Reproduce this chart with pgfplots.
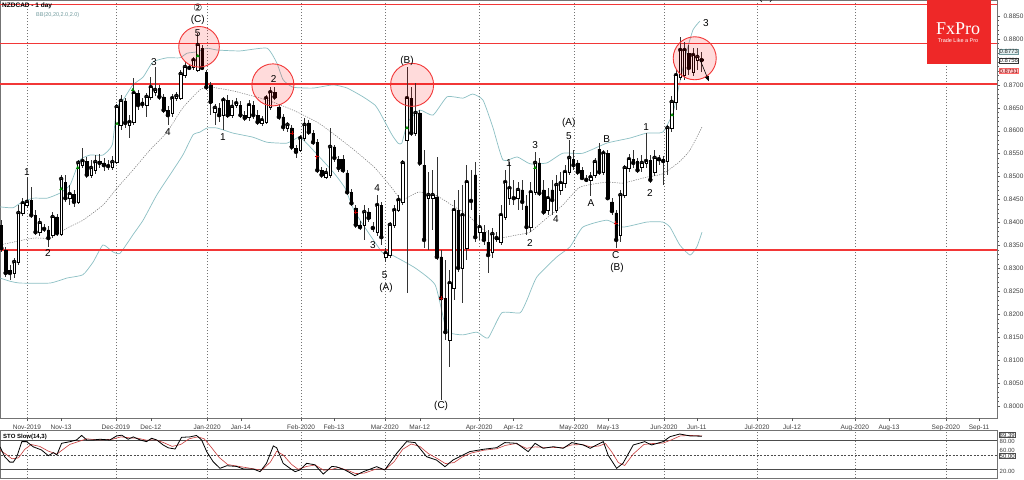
\documentclass[border=0pt]{standalone}
\usepackage{fontspec}
\setmainfont{Liberation Sans}
\setsansfont{Liberation Sans}
\newfontfamily\dejavu{DejaVu Sans}
\newfontfamily\serifx{Liberation Serif}
\usepackage{pgfplots}
\pgfplotsset{compat=1.18}
\usepackage{pgfplotstable}
\usetikzlibrary{arrows.meta}
\definecolor{bband}{RGB}{140,192,196}
\definecolor{hline}{RGB}{242,55,55}
\definecolor{fxred}{RGB}{238,40,40}
\definecolor{stored}{RGB}{200,60,60}

\pgfplotstableread{
i o h l c
-6 0.8394 0.8405 0.8336 0.8344
-5 0.8340 0.8347 0.8281 0.8290
-4 0.8296 0.8307 0.8275 0.8290
-3 0.8290 0.8323 0.8279 0.8314
-2 0.8314 0.8438 0.8307 0.8421
-1 0.8421 0.8453 0.8414 0.8442
0 0.8438 0.8499 0.8432 0.8445
1 0.8449 0.8477 0.8410 0.8416
2 0.8416 0.8427 0.8373 0.8379
3 0.8379 0.8410 0.8371 0.8399
4 0.8388 0.8397 0.8379 0.8386
5 0.8384 0.8392 0.8347 0.8366
6 0.8373 0.8423 0.8366 0.8412
7 0.8412 0.8418 0.8371 0.8377
8 0.8375 0.8504 0.8371 0.8495
9 0.8488 0.8504 0.8445 0.8453
10 0.8453 0.8482 0.8438 0.8462
11 0.8462 0.8471 0.8434 0.8445
12 0.8445 0.8536 0.8440 0.8530
13 0.8525 0.8562 0.8519 0.8534
14 0.8534 0.8543 0.8497 0.8504
15 0.8504 0.8536 0.8497 0.8519
16 0.8514 0.8547 0.8506 0.8532
17 0.8534 0.8549 0.8519 0.8530
18 0.8530 0.8541 0.8512 0.8525
19 0.8525 0.8536 0.8514 0.8523
20 0.8521 0.8545 0.8514 0.8532
21 0.8532 0.8658 0.8528 0.8652
22 0.8613 0.8678 0.8602 0.8665
23 0.8665 0.8671 0.8606 0.8617
24 0.8613 0.8634 0.8584 0.8619
25 0.8619 0.8715 0.8613 0.8682
26 0.8682 0.8689 0.8645 0.8656
27 0.8663 0.8671 0.8650 0.8658
28 0.8656 0.8682 0.8630 0.8674
29 0.8674 0.8717 0.8667 0.8695
30 0.8684 0.8739 0.8676 0.8689
31 0.8693 0.8700 0.8667 0.8674
32 0.8674 0.8680 0.8639 0.8645
33 0.8645 0.8654 0.8613 0.8634
34 0.8639 0.8680 0.8630 0.8671
35 0.8671 0.8684 0.8665 0.8676
36 0.8671 0.8732 0.8667 0.8724
37 0.8721 0.8750 0.8715 0.8739
38 0.8739 0.8745 0.8732 0.8737
39 0.8739 0.8761 0.8732 0.8754
40 0.8732 0.8813 0.8728 0.8787
41 0.8780 0.8787 0.8732 0.8737
42 0.8728 0.8732 0.8689 0.8695
43 0.8700 0.8706 0.8634 0.8663
44 0.8641 0.8658 0.8613 0.8650
45 0.8650 0.8660 0.8619 0.8634
46 0.8634 0.8674 0.8602 0.8667
47 0.8667 0.8678 0.8628 0.8634
48 0.8634 0.8667 0.8628 0.8652
49 0.8656 0.8671 0.8650 0.8660
50 0.8656 0.8665 0.8628 0.8634
51 0.8634 0.8643 0.8621 0.8628
52 0.8630 0.8667 0.8621 0.8656
53 0.8656 0.8665 0.8626 0.8634
54 0.8634 0.8645 0.8613 0.8619
55 0.8617 0.8632 0.8610 0.8623
56 0.8619 0.8678 0.8615 0.8671
57 0.8652 0.8695 0.8645 0.8684
58 0.8684 0.8695 0.8667 0.8674
59 0.8652 0.8658 0.8623 0.8630
60 0.8630 0.8636 0.8599 0.8608
61 0.8606 0.8619 0.8597 0.8613
62 0.8606 0.8613 0.8558 0.8565
63 0.8562 0.8569 0.8541 0.8554
64 0.8558 0.8591 0.8554 0.8584
65 0.8584 0.8628 0.8578 0.8613
66 0.8617 0.8623 0.8591 0.8597
67 0.8595 0.8602 0.8569 0.8575
68 0.8575 0.8582 0.8508 0.8514
69 0.8514 0.8521 0.8497 0.8504
70 0.8499 0.8519 0.8495 0.8508
71 0.8504 0.8606 0.8497 0.8565
72 0.8565 0.8569 0.8532 0.8541
73 0.8538 0.8545 0.8510 0.8519
74 0.8538 0.8547 0.8508 0.8514
75 0.8508 0.8514 0.8460 0.8466
76 0.8466 0.8473 0.8436 0.8442
77 0.8432 0.8438 0.8388 0.8395
78 0.8395 0.8403 0.8384 0.8390
79 0.8395 0.8438 0.8362 0.8423
80 0.8423 0.8432 0.8401 0.8410
81 0.8390 0.8401 0.8379 0.8388
82 0.8379 0.8460 0.8371 0.8438
83 0.8438 0.8445 0.8351 0.8368
84 0.8325 0.8344 0.8314 0.8333
85 0.8329 0.8401 0.8323 0.8395
86 0.8395 0.8438 0.8388 0.8427
87 0.8427 0.8460 0.8423 0.8449
88 0.8445 0.8536 0.8438 0.8530
89 0.8580 0.8739 0.8246 0.8671
90 0.8671 0.8695 0.8589 0.8595
91 0.8595 0.8704 0.8589 0.8639
92 0.8639 0.8645 0.8523 0.8530
93 0.8525 0.8558 0.8344 0.8362
94 0.8453 0.8510 0.8340 0.8460
95 0.8453 0.8514 0.8384 0.8460
96 0.8456 0.8543 0.8318 0.8325
97 0.8325 0.8340 0.8013 0.8235
98 0.8235 0.8318 0.8144 0.8161
99 0.8144 0.8296 0.8085 0.8268
100 0.8257 0.8449 0.8231 0.8427
101 0.8427 0.8471 0.8292 0.8301
102 0.8301 0.8482 0.8224 0.8416
103 0.8344 0.8525 0.8318 0.8488
104 0.8449 0.8514 0.8427 0.8447
105 0.8504 0.8532 0.8357 0.8368
106 0.8379 0.8416 0.8362 0.8390
107 0.8379 0.8395 0.8351 0.8362
108 0.8357 0.8384 0.8290 0.8329
109 0.8336 0.8388 0.8323 0.8375
110 0.8364 0.8379 0.8357 0.8366
111 0.8357 0.8438 0.8351 0.8416
112 0.8412 0.8514 0.8405 0.8488
113 0.8453 0.8532 0.8438 0.8475
114 0.8456 0.8493 0.8438 0.8453
115 0.8453 0.8488 0.8427 0.8471
116 0.8471 0.8493 0.8427 0.8445
117 0.8436 0.8460 0.8373 0.8390
118 0.8390 0.8488 0.8379 0.8466
119 0.8466 0.8554 0.8460 0.8530
120 0.8530 0.8541 0.8458 0.8464
121 0.8471 0.8493 0.8416 0.8423
122 0.8427 0.8475 0.8416 0.8453
123 0.8471 0.8493 0.8416 0.8449
124 0.8427 0.8504 0.8421 0.8482
125 0.8471 0.8510 0.8460 0.8486
126 0.8486 0.8525 0.8475 0.8510
127 0.8510 0.8580 0.8504 0.8541
128 0.8538 0.8558 0.8514 0.8525
129 0.8530 0.8536 0.8504 0.8510
130 0.8514 0.8521 0.8493 0.8497
131 0.8495 0.8504 0.8488 0.8493
132 0.8493 0.8510 0.8458 0.8499
133 0.8504 0.8541 0.8497 0.8532
134 0.8560 0.8573 0.8504 0.8510
135 0.8510 0.8558 0.8504 0.8551
136 0.8551 0.8558 0.8449 0.8453
137 0.8445 0.8453 0.8416 0.8425
138 0.8421 0.8427 0.8344 0.8362
139 0.8373 0.8471 0.8357 0.8460
140 0.8460 0.8525 0.8453 0.8519
141 0.8519 0.8549 0.8510 0.8538
142 0.8538 0.8558 0.8519 0.8530
143 0.8534 0.8541 0.8508 0.8514
144 0.8521 0.8547 0.8510 0.8530
145 0.8530 0.8595 0.8519 0.8534
146 0.8536 0.8547 0.8486 0.8493
147 0.8510 0.8558 0.8501 0.8541
148 0.8536 0.8547 0.8525 0.8538
149 0.8538 0.8545 0.8482 0.8534
150 0.8534 0.8613 0.8504 0.8606
151 0.8606 0.8676 0.8597 0.8663
152 0.8663 0.8732 0.8645 0.8721
153 0.8717 0.8804 0.8711 0.8776
154 0.8721 0.8793 0.8711 0.8776
155 0.8769 0.8787 0.8721 0.8737
156 0.8728 0.8780 0.8719 0.8765
157 0.8754 0.8780 0.8732 0.8761
158 0.8756 0.8772 0.8728 0.8754
}\candles

\pgfplotsset{
  mainpanel/.style={
    at={(0pt,0pt)}, anchor=north west, scale only axis,
    width=997pt, height=418pt,
    xmin=-6.32, xmax=227.2, ymin=0.79738, ymax=0.8885, clip=true},
  overlay/.style={mainpanel, hide axis},
}

\begin{document}
\begin{tikzpicture}
\useasboundingbox (0pt,0pt) rectangle (1024pt,-479pt);
\fill[white] (0pt,0pt) rectangle (1024pt,-479pt);
% ---------------- main price panel: frame, bands, levels, wicks ----------------
\begin{axis}[
  mainpanel,
  axis line style={black!55, line width=0.5pt},
  xtick={0,20.8,42.2,64.2,83.8,105.9,128.1,149.2,171,193.9,215.2},
  xticklabels={Nov-2019,Dec-2019,Jan-2020,Feb-2020,Mar-2020,Apr-2020,May-2020,Jun-2020,Jul-2020,Aug-2020,Sep-2020},
  extra x ticks={8,29,50.1,71.9,92,113.9,136.1,156.9,179.2,201.9,223},
  extra x tick labels={Nov-13,Dec-12,Jan-14,Feb-13,Mar-12,Apr-12,May-13,Jun-11,Jul-12,Aug-13,Sep-11},
  extra x tick style={grid=none},
  xmajorgrids,
  major grid style={black!55, dash pattern=on 1.5pt off 1.5pt, line width=0.4pt},
  xtick pos=left, ytick pos=right, yticklabel pos=right,
  tick align=outside, major tick length=3pt, minor tick length=1.5pt,
  tick style={black!65, line width=0.4pt},
  ytick={0.8000,0.8050,0.8100,0.8150,0.8200,0.8250,0.8300,0.8350,0.8400,0.8450,0.8500,0.8550,0.8600,0.8650,0.8700,0.8750,0.8800,0.8850},
  yticklabels={0.8000,0.8050,0.8100,0.8150,0.8200,0.8250,0.8300,0.8350,0.8400,0.8450,0.8500,0.8550,0.8600,0.8650,0.8700,{},0.8800,0.8850},
  minor y tick num=4,
  scaled y ticks=false,
  yticklabel style={font=\fontsize{6.5}{7}\selectfont, text=black!75},
  xticklabel style={font=\fontsize{6.5}{7}\selectfont, text=black!75},
]
% Bollinger bands
\addplot[bband, line width=0.7pt, smooth, tension=0.3] coordinates {
(-6.3,0.8434) (-3.3,0.8432) (-1.6,0.8442) (1.4,0.8453) (4.7,0.8453) (7.7,0.8464) (10.1,0.8482) (12.4,0.8536) (14.8,0.8547) (17.8,0.8547) (20,0.8570) (21,0.8650) (22.5,0.8667) (24.8,0.8700) (27.2,0.8717) (29.5,0.8750) (32.8,0.8759) (35.8,0.8759) (37.5,0.8769) (39.8,0.8772) (42.2,0.8780) (44.5,0.8776) (49.9,0.8774) (56.2,0.8780) (58.5,0.8748) (60,0.8711) (62.3,0.8695) (67,0.8693) (71.7,0.8700) (75,0.8693) (78.7,0.8674) (81.5,0.8656) (82.7,0.8639) (85.5,0.8591) (86.9,0.8573) (87.8,0.8573) (89.2,0.8619) (92,0.8645) (95.1,0.8634) (98.4,0.8674) (102.1,0.8671) (104.4,0.8680) (106.8,0.8667) (109.1,0.8608) (111.5,0.8536) (114.8,0.8543) (117.8,0.8528) (121.8,0.8530) (125.5,0.8551) (130.2,0.8551) (135.8,0.8573) (141.2,0.8584) (145.2,0.8595) (148.9,0.8597) (151.3,0.8639) (152.9,0.8706) (154.6,0.8776) (156,0.8820) (157.6,0.8839)};
\addplot[bband, line width=0.7pt, smooth, tension=0.3] coordinates {
(-6.3,0.8279) (-4,0.8272) (-1.6,0.8268) (5.4,0.8268) (9.4,0.8279) (13.1,0.8286) (15.5,0.8314) (17.8,0.8351) (20.1,0.8336) (21.8,0.8333) (24.8,0.8373) (27.2,0.8405) (30.4,0.8460) (33.5,0.8504) (36.5,0.8547) (38.9,0.8591) (40.5,0.8597) (42.2,0.8606) (44.5,0.8606) (48.2,0.8595) (52.9,0.8586) (56.2,0.8575) (60.9,0.8573) (63.9,0.8586) (67,0.8558) (71.7,0.8510) (74.5,0.8475) (76.8,0.8423) (83.1,0.8336) (85.5,0.8329) (90.9,0.8301) (95.6,0.8264) (97.9,0.8177) (99.1,0.8159) (102.1,0.8155) (105.4,0.8161) (108,0.8148) (111.2,0.8203) (115.5,0.8203) (117.1,0.8231) (119.4,0.8281) (124.1,0.8325) (127.2,0.8347) (130.2,0.8390) (135.8,0.8405) (139.6,0.8390) (145.2,0.8401) (148.9,0.8401) (150.6,0.8390) (152.9,0.8351) (155.3,0.8329) (156.9,0.8347) (158.1,0.8379)};
\addplot[black!55, line width=0.5pt, dash pattern=on 1.2pt off 1.2pt, smooth, tension=0.3] coordinates {
(-6.3,0.8351) (1.4,0.8366) (5.4,0.8366) (9.4,0.8388) (13.1,0.8405) (17.8,0.8438) (21.1,0.8475) (24.8,0.8514) (28.8,0.8558) (32.8,0.8597) (36.5,0.8650) (40.5,0.8689) (42.9,0.8695) (48.2,0.8687) (56.2,0.8667) (62.3,0.8645) (68.6,0.8615) (76.1,0.8562) (81.5,0.8519) (85.5,0.8475) (87.8,0.8449) (91.6,0.8466) (95.6,0.8460) (99.5,0.8438) (103.3,0.8416) (106.1,0.8390) (110.1,0.8366) (114.8,0.8373) (117.8,0.8379) (121.8,0.8410) (125.5,0.8438) (129.5,0.8477) (135.8,0.8488) (139.6,0.8486) (145.2,0.8499) (148.9,0.8506) (152.9,0.8533) (155.3,0.8558) (158.1,0.8608)};
% horizontal levels
\addplot[hline, line width=1.2pt] coordinates {(-7,0.8876) (228,0.8876)};
\addplot[hline, line width=1.2pt] coordinates {(-7,0.8791) (228,0.8791)};
\addplot[hline, line width=1.4pt] coordinates {(-7,0.8702) (228,0.8702)};
\addplot[hline, line width=1.1pt] coordinates {(-7,0.8340) (228,0.8340)};
% candle wicks
\addplot[only marks, mark=none, error bars/.cd, y dir=both, y explicit, error mark=none,
  error bar style={draw=black!80, line width=0.6pt, solid}]
  table[x=i, y=c, y error plus expr={\thisrow{h}-\thisrow{c}}, y error minus expr={\thisrow{c}-\thisrow{l}}] {\candles};
\end{axis}
% ---------------- candle bodies (stacked bars in an overlaid axis) ----------------
\begin{axis}[overlay, ybar stacked, bar width=2.5pt]
\addplot[draw=none, fill=none] table[x=i, y expr={min(\thisrow{o},\thisrow{c})}] {\candles};
\addplot[draw=black, fill=white, line width=0.55pt] table[x=i, y expr={max(\thisrow{c}-\thisrow{o},0)}] {\candles};
\addplot[draw=black, fill=black, line width=0.55pt] table[x=i, y expr={max(\thisrow{o}-\thisrow{c},0)}] {\candles};
\end{axis}
% ---------------- annotations on the price panel ----------------
\begin{axis}[overlay]
\addplot[only marks, mark=triangle*, mark size=1.7pt, color=green!55!black] coordinates {
(8.0,0.8473) (11.9,0.8519) (21.1,0.8615) (24.8,0.8689) (40.0,0.8763) (89.0,0.8606) (119.0,0.8519) (151.1,0.8634)};
\addplot[only marks, mark=+, mark size=2pt, line width=0.8pt, color=red!75!black] coordinates {
(62.1,0.8595) (67.9,0.8543) (77.0,0.8423) (97.0,0.8235) (137.9,0.8399)};
\draw[hline, line width=0.9pt, fill=red, fill opacity=0.14] (axis cs:40.3,0.8783) circle[radius=20.3pt];
\draw[hline, line width=0.9pt, fill=red, fill opacity=0.14] (axis cs:57.6,0.8700) circle[radius=21pt];
\draw[hline, line width=0.9pt, fill=red, fill opacity=0.14] (axis cs:90.2,0.8700) circle[radius=21.5pt];
\draw[hline, line width=0.9pt, fill=red, fill opacity=0.14] (axis cs:156.4,0.8758) circle[radius=21.5pt];
\draw[black, line width=0.6pt, -{Triangle[length=5pt,width=4pt]}] (axis cs:157.6,0.8756) -- (axis cs:159.7,0.8708);
\begin{scope}[every node/.style={font=\fontsize{10}{10}\selectfont, text=black, inner sep=0pt}]
\node at (axis cs:40.0,0.8868) {\dejavu ②};
\node at (axis cs:40.0,0.8841) {(C)};
\node at (axis cs:40.0,0.8813) {5};
\node at (axis cs:29.7,0.8750) {3};
\node at (axis cs:33.0,0.8597) {4};
\node at (axis cs:0,0.8510) {1};
\node at (axis cs:4.9,0.8333) {2};
\node at (axis cs:45.9,0.8586) {1};
\node at (axis cs:57.8,0.8713) {2};
\node at (axis cs:89.0,0.8752) {(B)};
\node at (axis cs:82.0,0.8475) {4};
\node at (axis cs:81.0,0.8351) {3};
\node at (axis cs:83.8,0.8286) {5};
\node at (axis cs:84.1,0.8257) {(A)};
\node at (axis cs:97.0,0.8000) {(C)};
\node at (axis cs:112.9,0.8530) {1};
\node at (axis cs:117.8,0.8355) {2};
\node at (axis cs:119.0,0.8569) {3};
\node at (axis cs:123.9,0.8408) {4};
\node at (axis cs:126.9,0.8617) {(A)};
\node at (axis cs:126.9,0.8589) {5};
\node at (axis cs:132.1,0.8442) {A};
\node at (axis cs:135.8,0.8582) {B};
\node at (axis cs:137.9,0.8329) {C};
\node at (axis cs:138.2,0.8301) {(B)};
\node at (axis cs:145.0,0.8608) {1};
\node at (axis cs:145.9,0.8464) {2};
\node at (axis cs:159.0,0.8835) {3};
\node at (axis cs:173.1,0.8889) {(C)};
\end{scope}
\end{axis}
% ---------------- stochastic panel ----------------
\begin{axis}[
  at={(0pt,-430pt)}, anchor=north west, scale only axis,
  width=997pt, height=48pt,
  xmin=-6.32, xmax=227.2, ymin=1.7, ymax=102.4,
  axis line style={black!55, line width=0.5pt},
  xtick={0,20.8,42.2,64.2,83.8,105.9,128.1,149.2,171,193.9,215.2},
  xticklabels={}, ytick=\empty, major tick length=0pt,
  xmajorgrids,
  major grid style={black!55, dash pattern=on 1.5pt off 1.5pt, line width=0.4pt},
  clip=true,
]
\addplot[black!70, line width=0.6pt] coordinates {(-7,80) (228,80)};
\addplot[black!70, line width=0.6pt] coordinates {(-7,20) (228,20)};
\addplot[black!70, line width=0.5pt, dash pattern=on 2pt off 1.5pt] coordinates {(-7,50) (228,50)};
\addplot[stored, line width=0.6pt] coordinates {
(-6.3,60) (-5,52) (-3.5,42) (-2,44) (-0.5,62) (1,72) (3,68) (5,58) (7,52) (8.5,62) (10,72) (12,78) (14,84) (16,82) (18,82) (20,83) (22,88) (24,86) (26,85) (28,81) (30,82) (32,76) (34,68) (36,72) (38,84) (40,88) (41.5,84) (43,68) (45,45) (47,30) (49,27) (51,24) (53,21) (55,18) (57,35) (58.5,58) (60,50) (62,30) (63.5,20) (65.5,26) (67.5,29) (69.5,18) (71.5,20) (73,24) (75,18) (77,11) (79,12) (82,21) (84,20) (86,36) (88,62) (90,73) (92,68) (94,53) (96,43) (98,32) (100,34) (102,46) (104,54) (107,60) (110,63) (112,70) (114.5,74) (117,64) (119,67) (121,66) (123,66) (125.5,65) (127.5,71) (130,72) (132,67) (134,69) (135.5,74) (137,56) (138.5,34) (140,28) (142,52) (144.5,72) (146.5,74) (149,75) (151,82) (153,90) (155.3,91) (158.1,90)};
\addplot[black, line width=0.8pt] coordinates {
(-6.3,67) (-5.2,46) (-4,35) (-3.2,35) (-2.4,46) (-1.2,78) (-0.1,78) (1.5,67) (3.4,60.5) (5,48.5) (6.2,55) (7,50) (8.1,74.5) (10.1,78) (11.6,81.5) (12.8,91) (14,81.5) (15.5,81.5) (17.1,83) (19.4,81.5) (21,90) (22.2,91.5) (23.7,83) (24.9,88) (26.5,81.5) (28,78) (29.2,85) (30.4,81.5) (31.9,71) (33.1,65) (34.7,62.5) (36.2,87) (38.2,88) (39.7,91) (40.9,81.5) (42.1,57) (43.6,36) (45.2,22) (46.8,27.5) (49.1,26) (50.7,20.6) (53,20.6) (54.6,15) (56.1,32.5) (57.7,69) (58.5,65) (60,32.5) (61.6,22) (62.8,15) (63.9,18.5) (65.5,32.5) (67.4,29.5) (69.4,10) (71.4,26) (72.5,25) (74.5,18.5) (75.6,13) (76.8,6.6) (78.8,15) (81.9,25.5) (83.8,18.5) (86.6,53.6) (88.9,78) (90.9,76) (93.6,46.4) (95.9,39.5) (97.9,25.5) (99.8,39.5) (103.7,57) (106.9,62) (110,65.3) (111.9,76) (114.7,74.5) (117.4,57) (119,74.5) (120.9,64) (123.3,67.4) (125.6,64) (127.6,76) (130.3,71) (131.9,64) (133.4,71) (135,78) (136.1,50) (138.1,22) (139.6,32.6) (142,71) (144.7,78) (146.3,71) (149,78) (150.6,88.4) (152.9,94) (155.3,90) (158.1,89.4)};
\end{axis}
% ---------------- annotations outside the plot areas ----------------
\node[anchor=west, font=\bfseries\fontsize{6.5}{7}\selectfont, inner sep=0pt] at (2pt,-6pt) {NZDCAD - 1 day};
\node[anchor=west, font=\fontsize{5.5}{6}\selectfont, text=bband!80!black, inner sep=0pt] at (36pt,-15pt) {BB(20,20,2.0,2.0)};
\node[anchor=west, font=\bfseries\fontsize{6}{7}\selectfont, inner sep=0pt] at (3pt,-437pt) {STO Slow(14,3)};
% FxPro logo
\fill[fxred] (927pt,0pt) rectangle (991pt,-64pt);
\node[text=white, font=\serifx\fontsize{18}{18}\selectfont, inner sep=0pt] at (958pt,-29pt) {FxPro};
\node[text=white, font=\fontsize{5.5}{6}\selectfont, inner sep=0pt] at (958pt,-41pt) {Trade Like a Pro};
% price boxes on the right scale
\begin{scope}[every node/.style={anchor=west, font=\fontsize{6}{6.5}\selectfont, inner sep=0.5pt, line width=0.4pt}]
\node[draw=bband!80!black, fill=bband!25, text=black!80] at (999pt,-51.5pt) {0.8773};
\node[draw=black!80, fill=white, text=black!85] at (999pt,-60.5pt) {0.8756};
\node[draw=red!60, fill=red!22, text=red!50!black] at (999pt,-71pt) {0.8731};
\node[draw=black!70, fill=white, text=black!85] at (999pt,-435pt) {89.39};
\node[text=black!75] at (999pt,-441pt) {80.00};
\node[text=black!75] at (999pt,-450pt) {60.00};
\node[draw=black!70, fill=white, text=black!85] at (999pt,-456pt) {50.00};
\node[text=black!75] at (999pt,-471pt) {20.00};
\end{scope}
\end{tikzpicture}
\end{document}
